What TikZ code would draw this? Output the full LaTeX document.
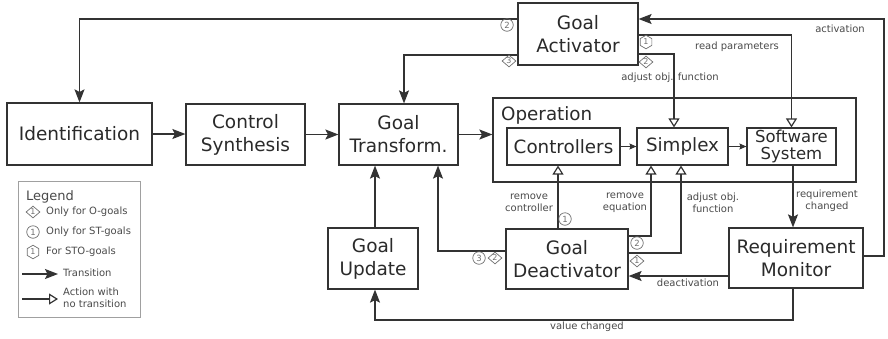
\documentclass[tikz,border=0pt]{standalone}
\usepackage{fontspec}
\setmainfont{DejaVu Sans}
\usetikzlibrary{arrows.meta,shapes.geometric,calc}
\definecolor{ln}{HTML}{333333}
\definecolor{tx}{HTML}{2A2A2A}
\definecolor{lb}{HTML}{4A4A4A}
\definecolor{mk}{HTML}{707070}
\definecolor{lg}{HTML}{A0A0A0}
\tikzset{
  box/.style={draw=ln, line width=1.2pt, fill=white, inner sep=0pt, align=center,
    text=tx, font=\fontsize{18.5}{23}\selectfont},
  inbox/.style={box, font=\fontsize{18.3}{18}\selectfont},
  softbox/.style={box, font=\fontsize{16.5}{17}\selectfont},
  lab/.style={text=lb, inner sep=0pt, align=center, font=\fontsize{10}{12}\selectfont},
  legtext/.style={text=lb, inner sep=0pt, align=left, anchor=west, font=\fontsize{10}{12}\selectfont},
  cnum/.style={circle, draw=mk, line width=0.7pt, inner sep=0pt, minimum size=12.5pt,
    text=mk, font=\fontsize{8.5}{8.5}\selectfont},
  dnum/.style={diamond, draw=mk, line width=0.7pt, inner sep=0pt, minimum width=14pt,
    minimum height=12pt, text=mk, font=\fontsize{8}{8}\selectfont},
  snum/.style={regular polygon, regular polygon sides=6, shape border rotate=90,
    draw=mk, line width=0.7pt, inner sep=0pt, minimum size=13.5pt,
    text=mk, font=\fontsize{8}{8}\selectfont},
  tr/.style={draw=ln, line width=1.2pt, -{Stealth[length=13pt,width=10pt,inset=2.5pt]}},
  sm/.style={draw=ln, line width=1.2pt, -{Stealth[length=7pt,width=6pt,inset=1pt]}},
  ac/.style={draw=ln, line width=1.2pt, -{Triangle[open,length=9pt,width=11pt]}}
}
\begin{document}
\begin{tikzpicture}[x=1pt,y=-1pt]
\useasboundingbox (0,0) rectangle (888,338);
\fill[white] (0,0) rectangle (888,338);

% main blocks
\node[box, minimum width=120pt, minimum height=62pt] (act) at (578,34) {Goal\\Activator};
\node[box, minimum width=145pt, minimum height=62pt] (ident) at (79.5,134) {Identification};
\node[box, minimum width=119pt, minimum height=61pt] (synth) at (245.5,134.5) {Control\\Synthesis};
\node[box, minimum width=119pt, minimum height=61pt] (trans) at (398.5,134.5) {Goal\\Transform.};
\node[box, minimum width=363pt, minimum height=84pt] (op) at (674.5,140) {};
\node[anchor=west, inner sep=0pt, text=tx, font=\fontsize{18.3}{18}\selectfont] (optitle) at (501,115) {Operation};
\node[inbox, minimum width=113pt, minimum height=37pt] (ctrl) at (563.5,146.5) {Controllers};
\node[inbox, minimum width=91pt, minimum height=37pt] (simplex) at (682.5,146.5) {Simplex};
\node[softbox, minimum width=89pt, minimum height=37pt] (soft) at (791.5,146.5) {Software\\System};
\node[box, minimum width=90pt, minimum height=61pt] (update) at (373,258.5) {Goal\\Update};
\node[box, minimum width=122pt, minimum height=60pt] (deact) at (567,259) {Goal\\Deactivator};
\node[box, minimum width=134pt, minimum height=60pt] (mon) at (796,258) {Requirement\\Monitor};

% corner points of routed connectors
\coordinate (rt) at (884,19);
\coordinate (vb) at (375,320);
\coordinate (dn) at ([xshift=-9pt]deact.north);
\coordinate (ss) at ([xshift=1.5pt]soft.south);
\coordinate (ml) at ([yshift=-18pt]mon.west);
\coordinate (un) at ([xshift=2pt]update.north);

% transitions
\draw[tr] ([yshift=2pt]mon.east) -| (rt) -- ([yshift=15pt]act.east);
\draw[tr] ([yshift=15pt]act.west) -| (ident.north);
\draw[tr] ([yshift=-21pt]act.west) -| ([xshift=5.5pt]trans.north);
\draw[tr] (ident.east) -- (ident.east -| synth.west);
\draw[tr] (synth.east) -- (synth.east -| trans.west);
\draw[tr] (trans.east) -- (trans.east -| op.west);
\draw[sm] (ctrl.east) -- (simplex.west);
\draw[sm] (simplex.east) -- (soft.west);
\draw[tr] (ss) -- (ss |- mon.north);
\draw[tr] (ml) -- (ml -| deact.east);
\draw[tr] ([xshift=-3pt]mon.south) |- (vb) -- ([xshift=2pt]update.south);
\draw[tr] (un) -- (un |- trans.south);
\draw[tr] ([yshift=8pt]deact.west) -| ([xshift=39.5pt]trans.south);

% actions without transition
\draw[ac] ([yshift=-20pt]act.east) -| ([xshift=-8.5pt]simplex.north);
\draw[ac] ([yshift=-1pt]act.east) -| (soft.north);
\draw[ac] (dn) -- (dn |- ctrl.south);
\draw[ac] ([yshift=23pt]deact.east) -| ([xshift=-31.5pt]simplex.south);
\draw[ac] ([yshift=6pt]deact.east) -| ([xshift=-1.5pt]simplex.south);

% connector labels
\node[lab] (l1) at (670,78) {adjust obj. function};
\node[lab] (l2) at (737,47) {read parameters};
\node[lab] (l3) at (840,29) {activation};
\node[lab] (l4) at (529,203) {remove\\controller};
\node[lab] (l5) at (625,203) {remove\\equation};
\node[lab] (l6) at (713,203) {adjust obj.\\function};
\node[lab] (l7) at (827,201) {requirement\\changed};
\node[lab] (l8) at (688,283) {deactivation};
\node[lab] (l9) at (587,327) {value changed};

% goal-type markers
\node[cnum] (n1) at (507,25) {2};
\node[dnum] (n2) at (509,61) {3};
\node[snum] (n3) at (646,42) {1};
\node[dnum] (n4) at (646,62) {2};
\node[cnum] (n5) at (565,219) {1};
\node[cnum] (n6) at (637,243) {2};
\node[dnum] (n7) at (637,261) {1};
\node[cnum] (n8) at (479,258) {3};
\node[dnum] (n9) at (495,258) {2};

% legend
\node[draw=lg, line width=0.8pt, minimum width=122pt, minimum height=136pt, inner sep=0pt] (legend) at (79,249) {};
\node[anchor=west, inner sep=0pt, text=lb, font=\fontsize{13}{13}\selectfont] (lgtitle) at (26,197) {Legend};
\node[dnum] (lgd) at (33,212) {1};
\node[legtext] (lgdt) at (46,212) {Only for O-goals};
\node[cnum] (lgc) at (33,232) {1};
\node[legtext] (lgct) at (46,232) {Only for ST-goals};
\node[snum] (lgs) at (33,252) {1};
\node[legtext] (lgst) at (46,252) {For STO-goals};
\coordinate (ta) at (22,274);
\coordinate (tb) at (58,274);
\draw[tr] (ta) -- (tb);
\node[legtext] (lgt) at (63,273) {Transition};
\coordinate (aa) at (22,299);
\coordinate (ab) at (58,299);
\draw[ac] (aa) -- (ab);
\node[legtext] (lga) at (63,298) {Action with\\no transition};
\end{tikzpicture}
\end{document}
